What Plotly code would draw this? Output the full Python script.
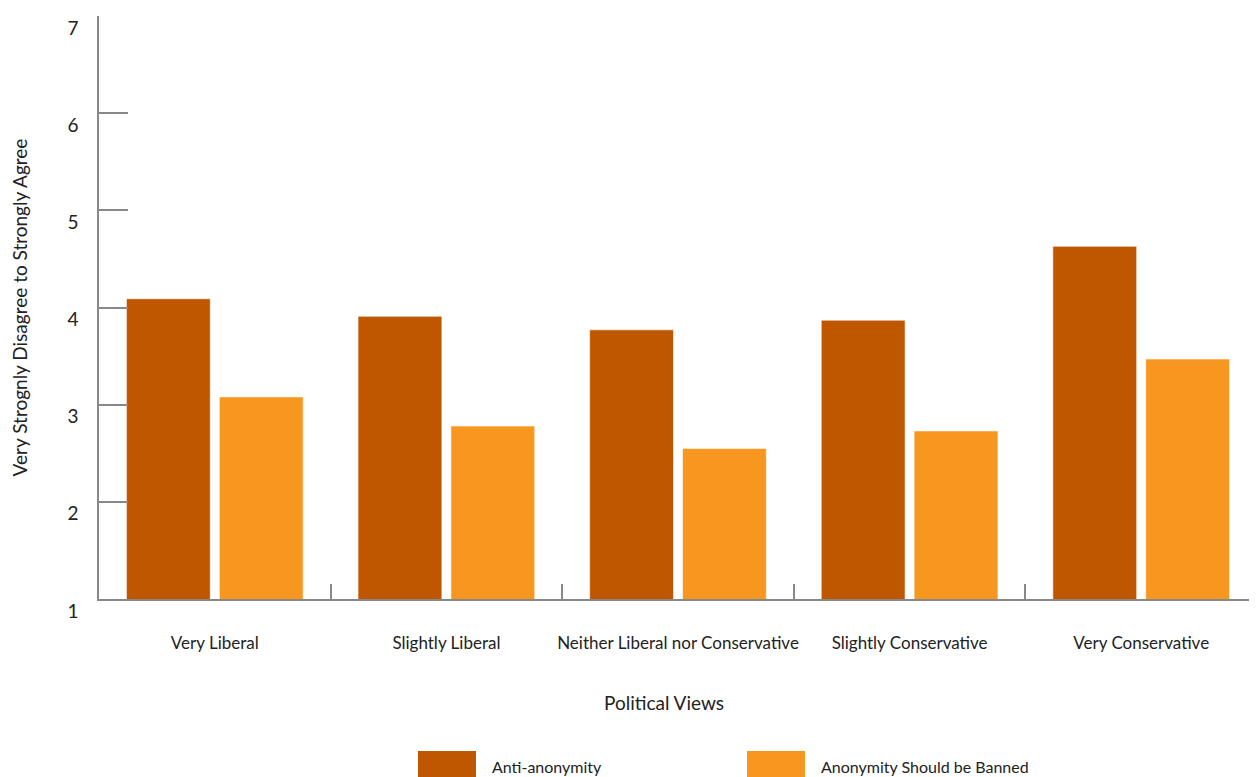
import plotly.graph_objects as go

categories = ["Very Liberal", "Slightly Liberal", "Neither Liberal nor Conservative",
              "Slightly Conservative", "Very Conservative"]
anti_anonymity = [4.09, 3.91, 3.77, 3.87, 4.63]
should_be_banned = [3.08, 2.78, 2.55, 2.73, 3.47]
series_names = ["Anti-anonymity", "Anonymity Should be Banned"]
y_ticks = [1, 2, 3, 4, 5, 6, 7]

DARK = "#BF5700"
LIGHT = "#F8971F"
FONT = "Lato, 'Open Sans', sans-serif"

fig = go.Figure()
fig.add_trace(go.Bar(x=categories, y=anti_anonymity, name=series_names[0],
                     marker=dict(color=DARK, line=dict(color="rgba(255,255,255,0.6)", width=1)),
                     showlegend=False))
fig.add_trace(go.Bar(x=categories, y=should_be_banned, name=series_names[1],
                     marker=dict(color=LIGHT, line=dict(color="rgba(255,255,255,0.6)", width=1)),
                     showlegend=False))

# page body has an 8px margin; figure coordinates are screen minus 8
OFF = 8
W, H = 1249, 769
ml, mr, mt, mb = 91, 0, 8, 178
pw, ph = W - ml - mr, H - mt - mb

def px_x(p):
    return (p - OFF - ml) / pw

def px_y(p):
    return (H - mb - (p - OFF)) / ph

legend_items = [(series_names[0], DARK, 418), (series_names[1], LIGHT, 747)]
for name, col, x0 in legend_items:
    fig.add_shape(type="rect", xref="paper", yref="paper",
                  x0=px_x(x0), x1=px_x(x0 + 58), y0=px_y(751), y1=px_y(790),
                  fillcolor=col, line=dict(width=0))
    fig.add_annotation(text=name, xref="paper", yref="paper",
                       x=px_x(x0 + 72), y=px_y(766), xanchor="left", yanchor="middle",
                       showarrow=False, font=dict(family=FONT, size=16, color="#222"))

# x-axis title (placed slightly left of the plot centre, as in the original)
fig.add_annotation(text="Political Views", xref="paper", yref="paper",
                   x=px_x(664), y=px_y(702), xanchor="center", yanchor="middle",
                   showarrow=False, font=dict(family=FONT, size=19, color="#222"))

fig.update_layout(
    width=W, height=H,
    margin=dict(l=ml, r=mr, t=mt, b=mb),
    plot_bgcolor="white", paper_bgcolor="white",
    barmode="group", bargap=0.198, bargroupgap=0.097,
    font=dict(family=FONT, color="#222"),
    showlegend=False,
)
fig.update_xaxes(
    showline=True, linecolor="#888", linewidth=1.5,
    ticks="inside", tickson="boundaries", ticklen=15, tickcolor="#888", tickwidth=1.5,
    tickfont=dict(family=FONT, size=17, color="#222"), tickangle=0,
    ticklabelstandoff=28,
    automargin=False, showgrid=False,
)
fig.update_yaxes(
    range=[1, 7], tickvals=y_ticks,
    showline=True, linecolor="#888", linewidth=1.5,
    ticks="inside", ticklen=29, tickcolor="#888", tickwidth=1.5,
    tickfont=dict(family=FONT, size=19, color="#222"),
    ticklabelstandoff=15, ticklabelshift=12,
    title=dict(text="Very Strognly Disagree to Strongly Agree",
               font=dict(family=FONT, size=19, color="#222"), standoff=36),
    automargin=False, showgrid=False, zeroline=False,
)

fig.write_html("out.html")
